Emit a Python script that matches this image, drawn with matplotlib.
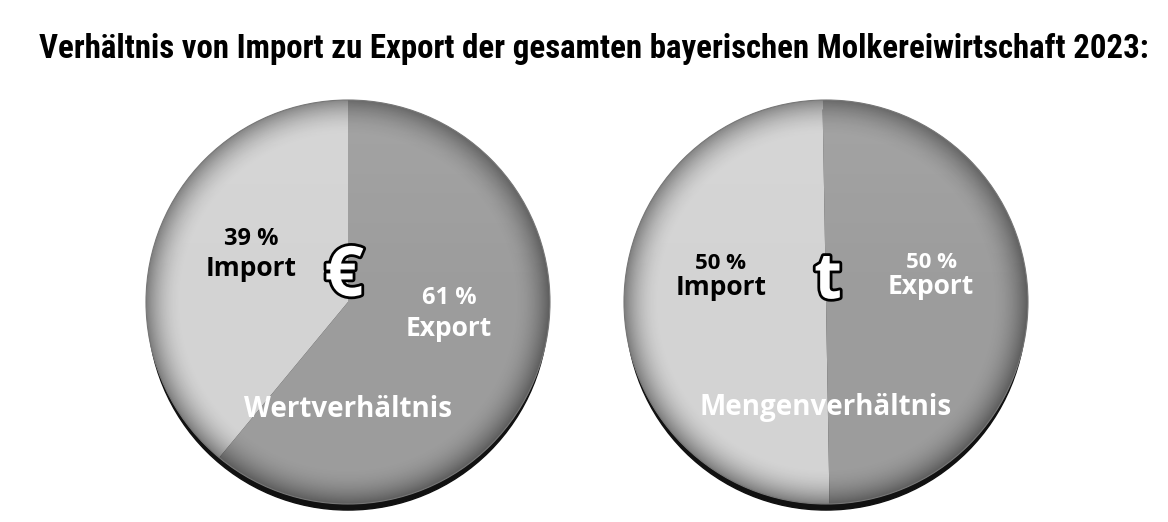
import numpy as np
import matplotlib
matplotlib.use("Agg")
from matplotlib import pyplot as plt
from matplotlib import patheffects as pe
from matplotlib import font_manager as fm
from matplotlib.patches import Circle, Ellipse

# Daten
title = "Verhältnis von Import zu Export der gesamten bayerischen Molkereiwirtschaft 2023:"
labels = ["Export", "Import"]
wert_anteile = [61, 39]    # Wertverhältnis (EUR)
menge_anteile = [50, 50]   # Mengenverhältnis (t)
pie_names = ["Wertverhältnis", "Mengenverhältnis"]
pie_symbols = ["€", "t"]

colors = ["#9c9c9c", "#d3d3d3"]
label_font = ["Open Sans", "DejaVu Sans"]

# schmale Schrift für den Titel, falls vorhanden
names = {f.name for f in fm.fontManager.ttflist}
title_font = "DejaVu Sans"
for cand in ["Liberation Sans Narrow", "DejaVu Sans Condensed", "Roboto Condensed", "Roboto"]:
    if cand in names:
        title_font = cand
        break

fig = plt.figure(figsize=(11.68, 5.22), dpi=100)
fig.patch.set_facecolor("white")

t = fig.text(0.5086, 0.907, title, ha="center", va="center", fontsize=21,
             fontweight="bold", fontstretch="condensed",
             family=[title_font, "DejaVu Sans"], color="black")
# auf die Breite des Originals einpassen (ca. 1112 px)
fig.canvas.draw()
bb = t.get_window_extent()
t.set_fontsize(21 * 1112 / bb.width)

W, H = 1168, 522
R = 202  # Radius in px
L = 1.08


def make_ax(cx, cy):
    w = 2 * L * R
    ax = fig.add_axes([(cx - w / 2) / W, (H - cy - w / 2) / H, w / W, w / H])
    ax.set_xlim(-L, L)
    ax.set_ylim(-L, L)
    ax.set_aspect("equal")
    ax.axis("off")
    return ax


def draw_pie(ax, values, start):
    # Schatten unten
    ax.add_patch(Ellipse((0, -0.04), 1.98, 1.98, color="#111111", zorder=0))
    ax.pie(values, colors=colors, startangle=start, counterclock=False,
           radius=1.0, center=(0, 0), frame=True,
           wedgeprops=dict(linewidth=0, zorder=1))
    # Rand-Schattierung
    n = 400
    xx, yy = np.meshgrid(np.linspace(-1, 1, n), np.linspace(-1, 1, n))
    rr = np.sqrt(xx ** 2 + yy ** 2)
    shade = np.clip((rr - 0.82) / 0.18, 0, 1) ** 2 * 0.4
    rgba = np.zeros((n, n, 4))
    rgba[..., 3] = shade
    im = ax.imshow(rgba, extent=(-1, 1, -1, 1), origin="lower", zorder=2)
    im.set_clip_path(Circle((0, 0), 1.0, transform=ax.transData))
    hl = np.ones((n, n, 4))
    hl[..., 3] = np.clip(yy, 0, 1) * 0.08
    im2 = ax.imshow(hl, extent=(-1, 1, -1, 1), origin="lower", zorder=2)
    im2.set_clip_path(Circle((0, 0), 1.0, transform=ax.transData))
    ax.add_patch(Circle((0, 0), 1.0, fill=False, edgecolor="#777777",
                        linewidth=0.8, zorder=3))
    ax.set_xlim(-L, L)
    ax.set_ylim(-L, L)
    ax.axis("off")


def txt(ax, x, y, s, color, size, **kw):
    ax.text(x, y, s, ha="center", va="center", color=color, fontsize=size,
            fontweight="bold", family=label_font, zorder=5, **kw)


outline = [pe.withStroke(linewidth=4, foreground="black")]

# Linker Kreis: Wertverhältnis
ax1 = make_ax(348, 302)
draw_pie(ax1, wert_anteile, 90)
txt(ax1, -0.48, 0.31, f"{wert_anteile[1]} %", "black", 17)
txt(ax1, -0.48, 0.165, labels[1], "black", 19)
txt(ax1, 0.5, 0.02, f"{wert_anteile[0]} %", "white", 17)
txt(ax1, 0.5, -0.13, labels[0], "white", 19)
txt(ax1, 0.0, -0.53, pie_names[0], "white", 20)
txt(ax1, -0.02, 0.12, pie_symbols[0], "white", 50, path_effects=outline)

# Rechter Kreis: Mengenverhältnis
ax2 = make_ax(826, 302)
draw_pie(ax2, menge_anteile, 91)
txt(ax2, -0.52, 0.19, f"{menge_anteile[1]} %", "black", 16)
txt(ax2, -0.52, 0.07, labels[1], "black", 19)
txt(ax2, 0.52, 0.195, f"{menge_anteile[0]} %", "white", 16)
txt(ax2, 0.52, 0.075, labels[0], "white", 19)
txt(ax2, 0.0, -0.52, pie_names[1], "white", 20)
txt(ax2, 0.01, 0.1, pie_symbols[1], "white", 46, path_effects=outline)

fig.savefig("out.png", dpi=100, facecolor="white")
